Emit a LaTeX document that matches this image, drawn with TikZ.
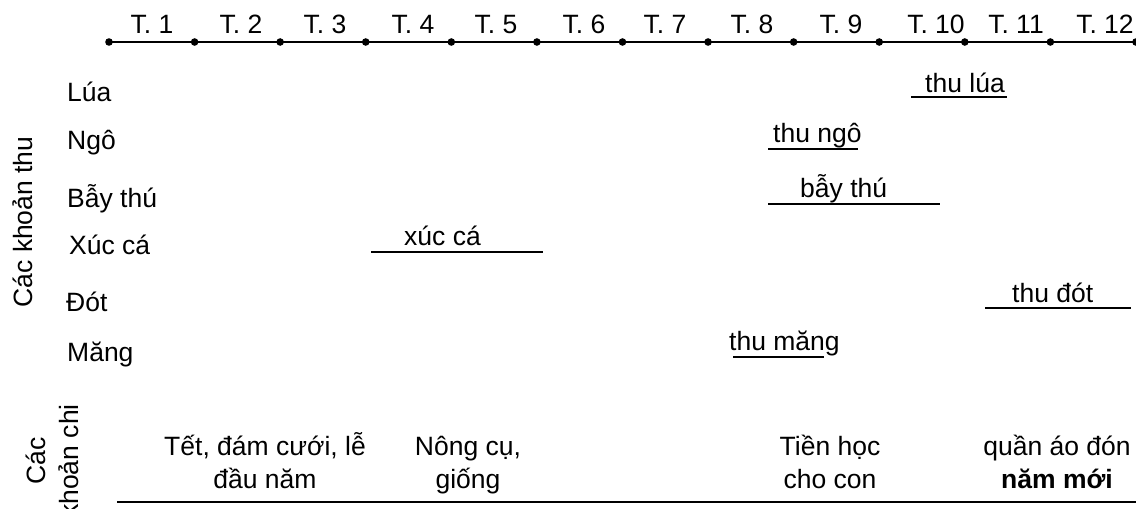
\documentclass[tikz,border=0pt]{standalone}
\usepackage{fontspec}
\setmainfont{Liberation Sans}
\newcommand\topstrut{\rule{0pt}{27pt}}
\begin{document}
\begin{tikzpicture}[x=1pt,y=-1pt,
  every node/.style={inner sep=0pt, font=\fontsize{26.5}{33}\selectfont},
  tl/.style={line width=1.5pt},
  bar/.style={line width=2pt},
  lab/.style={anchor=base west},
  month/.style={anchor=base},
  chi/.style={anchor=north, align=center}]
\useasboundingbox (0,0) rectangle (1136,509);
% timeline
\foreach \i in {0,...,12} \coordinate (d\i) at ({109+85.58*\i},42);
\draw[tl] (d0) -- (d12);
\foreach \i in {0,...,12} \fill (d\i) circle (3.8);
\foreach \x/\t [count=\k] in {152/1,241/2,325/3,413/4,496/5,584/6,665/7,752/8,841/9,936/10,1016/11,1105/12}
  \node[month] (m\k) at (\x,33) {T. \t};
% axis titles
\node[anchor=base, rotate=90] (thu) at (32,222) {Các khoản thu};
\node[chi, rotate=90] (chi) at (18,461) {\topstrut Các\\khoản chi};
% row labels
\node[lab] (lua) at (67,101) {Lúa};
\node[lab] (ngo) at (67,149) {Ngô};
\node[lab] (bay) at (67,207) {Bẫy thú};
\node[lab] (xuc) at (69,254) {Xúc cá};
\node[lab] (dot) at (66,311) {Đót};
\node[lab] (mang) at (67,361) {Măng};
% activities
\node[lab] (tlua) at (925,92) {thu lúa};
\coordinate (a1) at (911,97); \coordinate (b1) at (1007,97);
\draw[bar] (a1) -- (b1);
\node[lab] (tngo) at (773,142) {thu ngô};
\coordinate (a2) at (768,149); \coordinate (b2) at (858,149);
\draw[bar] (a2) -- (b2);
\node[lab] (tbay) at (800,197) {bẫy thú};
\coordinate (a3) at (768,204); \coordinate (b3) at (940,204);
\draw[bar] (a3) -- (b3);
\node[lab] (txuc) at (404,245) {xúc cá};
\coordinate (a4) at (371,252); \coordinate (b4) at (543,252);
\draw[bar] (a4) -- (b4);
\node[lab] (tdot) at (1012,302) {thu đót};
\coordinate (a5) at (985,308); \coordinate (b5) at (1131,308);
\draw[bar] (a5) -- (b5);
\node[lab] (tmang) at (729,350) {thu măng};
\coordinate (a6) at (733,357); \coordinate (b6) at (824,357);
\draw[bar] (a6) -- (b6);
% expenses
\node[chi] (c1) at (265,428) {\topstrut Tết, đám cưới, lễ\\đầu năm};
\node[chi] (c2) at (468,428) {\topstrut Nông cụ,\\giống};
\node[chi] (c3) at (830,428) {\topstrut Tiền học\\cho con};
\node[chi] (c4) at (1057,428) {\topstrut quần áo đón\\\textbf{năm mới}};
\coordinate (l0) at (117,502); \coordinate (l1) at (1136,502);
\draw[bar] (l0) -- (l1);
\end{tikzpicture}
\end{document}
